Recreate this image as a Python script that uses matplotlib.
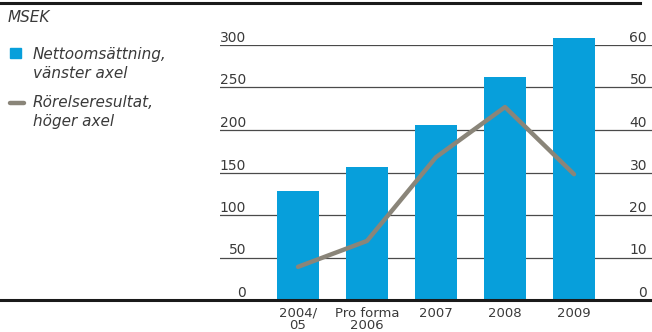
#!/usr/bin/env python3
"""Nettoomsättning (bars, left axis) and Rörelseresultat (line, right axis), MSEK."""

import matplotlib.pyplot as plt

CATEGORIES = ["2004/\n05", "Pro forma\n2006", "2007", "2008", "2009"]
NET_SALES = [128, 156, 206, 262, 308]        # vänster axel
OPERATING = [7.8, 13.9, 33.6, 45.4, 29.6]    # höger axel
LEFT_TICKS = [0, 50, 100, 150, 200, 250, 300]
RIGHT_TICKS = [0, 10, 20, 30, 40, 50, 60]

BLUE = "#079fdb"
GREY = "#8a8579"
TEXT = "#3a3a3a"

plt.rcParams["font.family"] = ["DejaVu Sans"]

fig = plt.figure(figsize=(6.52, 3.32), dpi=100)
ax = fig.add_axes([220 / 652, 32 / 332, 432 / 652, 255 / 332])
ax2 = ax.twinx()

x = list(range(len(CATEGORIES)))
bars = ax.bar(x, NET_SALES, width=0.61, color=BLUE, zorder=2)
for b in bars:
    b.set_clip_on(False)
ax2.plot(x, OPERATING, color=GREY, linewidth=3.2, solid_capstyle="round",
         zorder=3)

ax.set_xlim(-1.13, 5.13)
ax.set_ylim(0, 300)
ax2.set_ylim(0, 60)

for a in (ax, ax2):
    for s in a.spines.values():
        s.set_visible(False)
    a.set_yticks([])
ax.set_xticks(x)
ax.set_xticklabels(CATEGORIES, fontsize=9.5, color=TEXT, linespacing=0.95)
ax.tick_params(axis="x", length=0, pad=5)

# gridlines with labels sitting on top of them
for v in LEFT_TICKS[1:]:
    ax.axhline(v, color="#4a4a4a", linewidth=0.9, zorder=1)
for v in LEFT_TICKS:
    ax.text(26 / 432, v, str(v), transform=ax.get_yaxis_transform(),
            ha="right", va="bottom", fontsize=10, color=TEXT)
for v in RIGHT_TICKS:
    ax2.text(427 / 432, v, str(v), transform=ax2.get_yaxis_transform(),
             ha="right", va="bottom", fontsize=10, color=TEXT)

# heavy baseline and top rule across the whole figure
fig.add_artist(plt.Line2D([0, 1], [32 / 332, 32 / 332], color="#1a1a1a",
                          linewidth=2.2, transform=fig.transFigure))
fig.add_artist(plt.Line2D([0, 640 / 652], [329 / 332, 329 / 332],
                          color="#1a1a1a", linewidth=2.2,
                          transform=fig.transFigure))

# legend on the left
fig.text(8 / 652, 1 - 18 / 332, "MSEK", style="italic", fontsize=11,
         color=TEXT, va="center")
fig.add_artist(plt.Rectangle((10 / 652, 1 - 58 / 332), 11 / 652, 10 / 332,
                             color=BLUE, transform=fig.transFigure))
fig.text(33 / 652, 1 - 64 / 332, "Nettoomsättning,\nvänster axel",
         style="italic", fontsize=11, color=TEXT, va="center",
         linespacing=1.3)
fig.add_artist(plt.Line2D([10 / 652, 24 / 652], [1 - 103 / 332, 1 - 103 / 332],
                          color=GREY, linewidth=3.2, solid_capstyle="round",
                          transform=fig.transFigure))
fig.text(33 / 652, 1 - 112 / 332, "Rörelseresultat,\nhöger axel",
         style="italic", fontsize=11, color=TEXT, va="center",
         linespacing=1.3)

fig.savefig("out.png", dpi=100)
